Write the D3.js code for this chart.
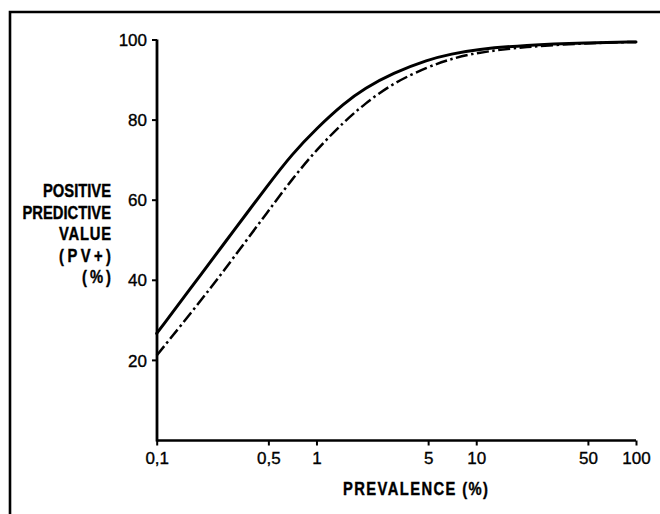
<!DOCTYPE html>
<html>
<head>
<meta charset="utf-8">
<script src="https://cdn.jsdelivr.net/npm/d3@7"></script>
<style>
  html, body { margin: 0; padding: 0; background: #fff; }
  svg { display: block; }
  .tick text { font-family: "Liberation Sans", Arial, sans-serif; font-size: 17px; fill: #000; stroke: #000; stroke-width: 0.35px; }
</style>
</head>
<body>
<svg id="chart" width="660" height="514"></svg>
<script>
// Data
const prevalence = [0.1, 0.2, 0.3, 0.5, 0.7, 1, 1.5, 2, 3, 5, 7, 10, 20, 50, 100];          // %
const pvSolid    = [26.6, 42.6, 52, 63.8, 71.3, 77.8, 84.2, 87.8, 91.6, 95, 96.4, 97.5, 98.6, 99.2, 99.4];
const pvDashDot  = [21.1, 36, 45.3, 57.2, 65, 72.5, 79.6, 83.9, 89.1, 93.2, 95.2, 96.7, 98.2, 99.1, 99.4];
const xTicks = [0.1, 0.5, 1, 5, 10, 50, 100];
const xTickLabels = ["0,1", "0,5", "1", "5", "10", "50", "100"];
const yTicks = [20, 40, 60, 80, 100];
const yTitle = ["POSITIVE", "PREDICTIVE", "VALUE", "(PV+)", "(%)"];
const xTitle = "PREVALENCE (%)";

const svg = d3.select("#chart");

// frame
svg.append("path")
  .attr("d", "M10,516 V12 H662")
  .attr("fill", "none").attr("stroke", "#000").attr("stroke-width", 2.6);

const x = d3.scaleLog().domain([0.1, 100]).range([156.7, 636]);
const y = d3.scaleLinear().domain([0, 100]).range([440, 39.5]);

const xAxis = d3.axisBottom(x).tickValues(xTicks)
  .tickFormat((d, i) => xTickLabels[i]).tickSize(5).tickSizeOuter(0).tickPadding(6);
const gx = svg.append("g").attr("transform", "translate(0,440.5)").call(xAxis);
gx.select(".domain").attr("stroke-width", 2.4).attr("d", `M${x(0.1)},0H${x(100)}`);
gx.selectAll(".tick line").attr("stroke-width", 2);

const yAxis = d3.axisLeft(y).tickValues(yTicks).tickSize(5).tickSizeOuter(0).tickPadding(5);
const gy = svg.append("g").attr("transform", "translate(157,0)").call(yAxis);
gy.select(".domain").attr("stroke-width", 2.8).attr("d", `M0,${y(100)}V${y(0) + 1.5}`);
gy.selectAll(".tick line").attr("stroke-width", 2);
gy.selectAll(".tick text").attr("dy", "0.36em");

// curves
const line = d3.line().x(d => x(d[0])).y(d => y(d[1])).curve(d3.curveBasis);
svg.append("path")
  .datum(prevalence.map((p, i) => [p, pvSolid[i]]))
  .attr("d", line).attr("fill", "none").attr("stroke", "#000")
  .attr("stroke-width", 3).attr("stroke-linecap", "round");
svg.append("path")
  .datum(prevalence.map((p, i) => [p, pvDashDot[i]]))
  .attr("d", line).attr("fill", "none").attr("stroke", "#000")
  .attr("stroke-width", 2.5).attr("stroke-dasharray", "12,3.5,2.5,3.5");

// y title
const yBase = [197, 218.5, 240, 261.5, 283];
const yLen = [null, null, 63.4, 63.4, 35.4];
yTitle.forEach((t, i) => {
  const tx = svg.append("text")
    .attr("transform", `translate(111,${yBase[i]}) scale(0.82,1)`)
    .attr("text-anchor", "end")
    .attr("font-family", "Liberation Sans, Arial, sans-serif")
    .attr("font-weight", "bold").attr("font-size", 18)
    .attr("stroke", "#000").attr("stroke-width", 0.4)
    .text(t);
  if (yLen[i]) tx.attr("textLength", yLen[i]).attr("lengthAdjust", "spacing");
});

// x title
svg.append("text")
  .attr("transform", "translate(415.5,495) scale(0.82,1)")
  .attr("text-anchor", "middle")
  .attr("font-family", "Liberation Sans, Arial, sans-serif")
  .attr("font-weight", "bold").attr("font-size", 18)
  .attr("stroke", "#000").attr("stroke-width", 0.4)
  .attr("textLength", 176.8).attr("lengthAdjust", "spacing")
  .text(xTitle);
</script>
</body>
</html>
